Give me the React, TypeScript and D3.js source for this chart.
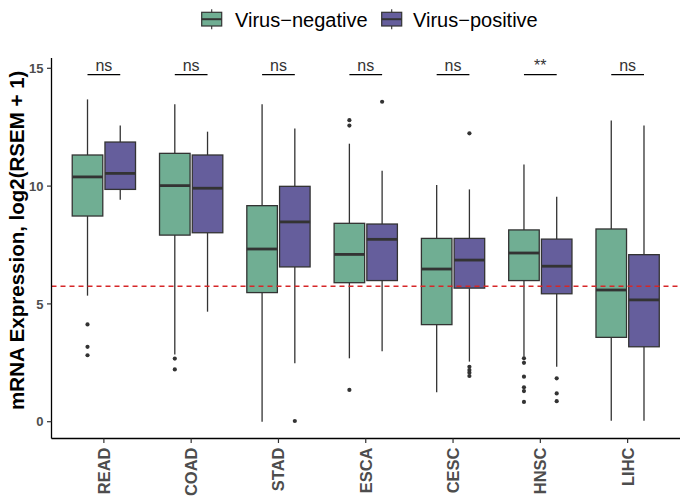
import React from "react";
import * as d3 from "d3";

const categories = ["READ", "COAD", "STAD", "ESCA", "CESC", "HNSC", "LIHC"];
const groups = ["Virus−negative", "Virus−positive"];

const negLow = [5.35, 2.85, 0.0, 2.69, 1.25, 2.76, 0.04];
const negQ1 = [8.73, 7.92, 5.48, 5.9, 4.12, 5.99, 3.58];
const negMed = [10.39, 10.02, 7.33, 7.1, 6.48, 7.16, 5.59];
const negQ3 = [11.32, 11.39, 9.17, 8.42, 7.78, 8.14, 8.18];
const negHigh = [13.68, 13.47, 13.47, 11.8, 10.05, 10.92, 12.78];
const negOutliers = [[4.13, 3.18, 2.82], [2.68, 2.22], [], [12.8, 12.57, 1.35], [], [2.69, 2.5, 1.91, 1.46, 1.3, 0.84], []];

const posLow = [9.42, 4.67, 2.48, 2.99, 2.55, 2.33, 0.04];
const posQ1 = [9.86, 8.02, 6.57, 5.99, 5.67, 5.43, 3.18];
const posMed = [10.54, 9.91, 8.48, 7.74, 6.86, 6.6, 5.17];
const posQ3 = [11.87, 11.32, 9.99, 8.39, 7.78, 7.75, 7.09];
const posHigh = [12.57, 12.31, 12.45, 10.65, 9.86, 9.55, 12.57];
const posOutliers = [[], [], [0.03], [13.58], [12.24, 2.33, 2.19, 2.08, 1.94], [1.84, 1.2, 0.87], []];

const signif = ["ns", "ns", "ns", "ns", "ns", "**", "ns"];
const signifY = 14.73;
const thresholdY = 5.75;
const yTicks = [0, 5, 10, 15];

const colors = ["#70AE93", "#655E9C"];
const FONT = "'Liberation Sans', Arial, Helvetica, sans-serif";

export default function App() {
  const W = 686, H = 500;
  const left = 51.5, right = 680, top = 58, bottom = 438.5;
  const x = d3.scalePoint<string>().domain(categories).range([left, right]).padding(0.6);
  const step = x.step();
  const y = d3.scaleLinear().domain([0, 15]).range([421.7, 68.3]);
  const boxW = step * 0.35;
  const offs = [-step * 0.1875, step * 0.1875];

  const series = [
    { low: negLow, q1: negQ1, med: negMed, q3: negQ3, high: negHigh, out: negOutliers },
    { low: posLow, q1: posQ1, med: posMed, q3: posQ3, high: posHigh, out: posOutliers },
  ];

  return (
    <svg width={W} height={H} style={{ position: "absolute", left: 0, top: 0, background: "#fff" }} fontFamily={FONT}>
      <rect x={0} y={0} width={W} height={H} fill="#fff" />
      {/* legend */}
      {groups.map((g, i) => {
        const kx = [201.7, 381.7][i];
        const tx = [235, 413][i];
        return (
          <g key={g}>
            <line x1={kx + 10} x2={kx + 10} y1={9.3} y2={29.3} stroke="#333" strokeWidth={1.1} />
            <rect x={kx} y={12.3} width={20} height={13.7} fill={colors[i]} stroke="#333" strokeWidth={1.2} />
            <line x1={kx} x2={kx + 20} y1={19.2} y2={19.2} stroke="#333" strokeWidth={2} />
            <text x={tx} y={26.5} fontSize={20} fill="#000">{g}</text>
          </g>
        );
      })}

      {/* boxes */}
      {categories.map((c, ci) => (
        <g key={c}>
          {series.map((s, si) => {
            const cx = (x(c) as number) + offs[si];
            return (
              <g key={si}>
                <line x1={cx} x2={cx} y1={y(s.high[ci])} y2={y(s.q3[ci])} stroke="#333" strokeWidth={1.3} />
                <line x1={cx} x2={cx} y1={y(s.q1[ci])} y2={y(s.low[ci])} stroke="#333" strokeWidth={1.3} />
                <rect x={cx - boxW / 2} y={y(s.q3[ci])} width={boxW} height={y(s.q1[ci]) - y(s.q3[ci])}
                  fill={colors[si]} stroke="#333" strokeWidth={1.3} />
                <line x1={cx - boxW / 2} x2={cx + boxW / 2} y1={y(s.med[ci])} y2={y(s.med[ci])} stroke="#333" strokeWidth={2.8} />
                {s.out[ci].map((v, k) => (
                  <circle key={k} cx={cx} cy={y(v)} r={2.1} fill="#333" />
                ))}
              </g>
            );
          })}
        </g>
      ))}

      {/* threshold */}
      <line x1={left} x2={right} y1={y(thresholdY)} y2={y(thresholdY)} stroke="#D62728" strokeWidth={1.4} strokeDasharray="5,4" />

      {/* significance */}
      {categories.map((c, ci) => {
        const cx = x(c) as number;
        return (
          <g key={"s" + c}>
            <line x1={cx + offs[0]} x2={cx + offs[1]} y1={y(signifY)} y2={y(signifY)} stroke="#000" strokeWidth={1.2} />
            <text x={cx} y={y(signifY) - 3.2} textAnchor="middle" fontSize={16} fill="#333">{signif[ci]}</text>
          </g>
        );
      })}

      {/* axes */}
      <line x1={left} x2={left} y1={top} y2={bottom} stroke="#000" strokeWidth={1.3} />
      <line x1={left} x2={right} y1={bottom} y2={bottom} stroke="#000" strokeWidth={1.3} />
      {yTicks.map((t) => (
        <g key={t}>
          <line x1={left - 4.5} x2={left} y1={y(t)} y2={y(t)} stroke="#333" strokeWidth={1.2} />
          <text x={43.5} y={y(t)} dy="0.36em" textAnchor="end" fontSize={13} fontWeight="bold" fill="#4D4D4D">{t}</text>
        </g>
      ))}
      {categories.map((c) => {
        const cx = x(c) as number;
        return (
          <g key={"x" + c}>
            <line x1={cx} x2={cx} y1={bottom} y2={bottom + 4.5} stroke="#333" strokeWidth={1.2} />
            <text transform={`translate(${cx},${bottom + 9}) rotate(-90)`} dy="0.36em" textAnchor="end"
              fontSize={16.5} fontWeight="bold" fill="#4D4D4D">{c}</text>
          </g>
        );
      })}
      <text transform={`translate(24,${(top + bottom) / 2 - 8}) rotate(-90)`} textAnchor="middle" fontSize={20.5}
        fontWeight="bold" fill="#000">mRNA Expression, log2(RSEM + 1)</text>
    </svg>
  );
}
